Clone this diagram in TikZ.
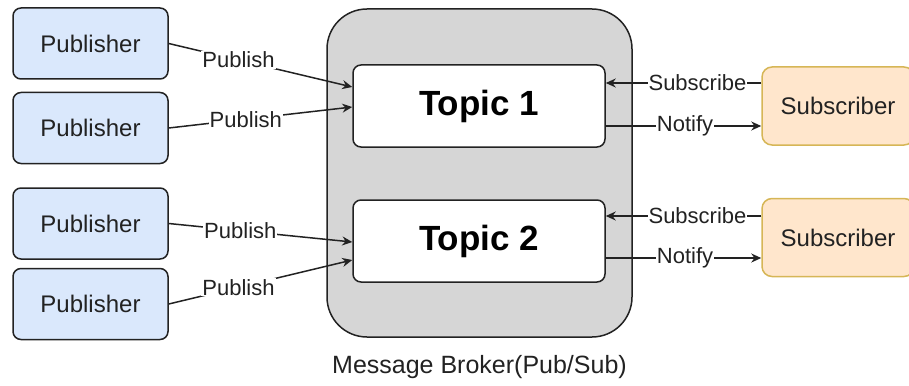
\documentclass[tikz,border=0pt]{standalone}
\usepackage{fontspec}
\setmainfont{Liberation Sans}
\usetikzlibrary{positioning}
\usetikzlibrary{arrows.meta}

\definecolor{pubfill}{HTML}{DAE8FC}
\definecolor{subfill}{HTML}{FFE6CC}
\definecolor{substroke}{HTML}{D6B656}
\definecolor{brokerfill}{HTML}{D6D6D6}
\definecolor{linecol}{HTML}{222222}

\begin{document}
\begin{tikzpicture}[x=1pt, y=-1pt,
  pub/.style={draw=linecol, fill=pubfill, line width=1.5pt, rounded corners=8pt,
    minimum width=155pt, minimum height=71pt, text=linecol,
    font=\fontsize{24}{28}\selectfont},
  sub/.style={draw=substroke, fill=subfill, line width=1.5pt, rounded corners=10pt,
    minimum width=152pt, minimum height=78pt, text=linecol,
    font=\fontsize{24}{28}\selectfont},
  topic/.style={draw=linecol, fill=white, line width=1.5pt, rounded corners=8pt,
    minimum width=252pt, minimum height=82pt,
    font=\fontsize{35}{40}\selectfont\bfseries},
  broker/.style={draw=linecol, fill=brokerfill, line width=1.5pt, rounded corners=40pt,
    minimum width=305pt, minimum height=328pt},
  flow/.style={draw=linecol, line width=1.5pt, -{Stealth[length=10pt, width=9pt]}},
  lbl/.style={fill=white, inner sep=1pt, text=linecol,
    font=\fontsize{22}{26}\selectfont}
]

\useasboundingbox (0, 0) rectangle (909, 385);

% broker and topics
\node[broker] (broker) at (479.5, 173) {};
\node[inner sep=0pt, below=17pt of broker, text=linecol,
  font=\fontsize{25}{29}\selectfont] (brokerlabel) {Message Broker(Pub/Sub)};

\node[topic] (topic1) at (479, 106) {Topic 1};
\node[topic] (topic2) at (479, 241) {Topic 2};

% publishers
\node[pub] (pub1) at (90.5, 43.5) {Publisher};
\node[pub] (pub2) at (90.5, 128) {Publisher};
\node[pub] (pub3) at (90.5, 223.5) {Publisher};
\node[pub] (pub4) at (90.5, 304) {Publisher};

% subscribers
\node[sub] (sub1) at (838, 106) {Subscriber};
\node[sub] (sub2) at (838, 237.5) {Subscriber};

% publish
\draw[flow] (pub1.east) -- node[lbl, pos=.38] {Publish} ([yshift=19pt]topic1.west);
\draw[flow] (pub2.east) -- node[lbl, pos=.42] {Publish} ([yshift=-1pt]topic1.west);
\draw[flow] (pub3.east) -- node[lbl, pos=.39] {Publish} ([yshift=-1pt]topic2.west);
\draw[flow] (pub4.east) -- node[lbl, pos=.38] {Publish} ([yshift=-19pt]topic2.west);

% subscribe / notify
\coordinate (tin1) at ([yshift=23pt]topic1.east);
\coordinate (tout1) at ([yshift=-20pt]topic1.east);
\coordinate (tin2) at ([yshift=25pt]topic2.east);
\coordinate (tout2) at ([yshift=-17pt]topic2.east);

\draw[flow] (sub1.west |- tin1) -- node[lbl, pos=.41] {Subscribe} (tin1);
\draw[flow] (tout1) -- node[lbl, pos=.51] {Notify} (sub1.west |- tout1);
\draw[flow] (sub2.west |- tin2) -- node[lbl, pos=.41] {Subscribe} (tin2);
\draw[flow] (tout2) -- node[lbl, pos=.51] {Notify} (sub2.west |- tout2);

\end{tikzpicture}
\end{document}
